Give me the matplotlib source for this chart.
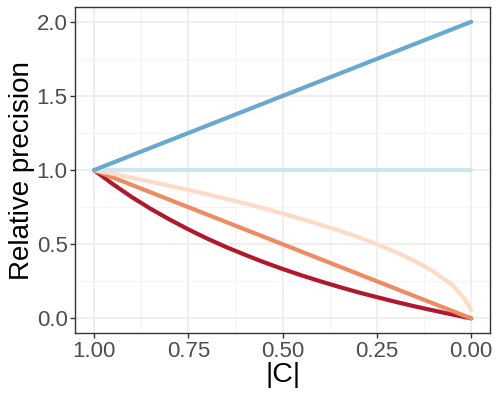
import numpy as np
import matplotlib
matplotlib.use("Agg")
import matplotlib.pyplot as plt

plt.rcParams["font.family"] = ["Liberation Sans", "DejaVu Sans"]

# |C| values (x axis runs from 1 down to 0)
c_abs = [1.0, 0.95, 0.9, 0.85, 0.8, 0.75, 0.7, 0.65, 0.6, 0.55, 0.5,
         0.45, 0.4, 0.35, 0.3, 0.25, 0.2, 0.15, 0.1, 0.05, 0.02, 0.01, 0.0]

blue_dark = [1.0, 1.05, 1.1, 1.15, 1.2, 1.25, 1.3, 1.35, 1.4, 1.45, 1.5,
             1.55, 1.6, 1.65, 1.7, 1.75, 1.8, 1.85, 1.9, 1.95, 1.98, 1.99, 2.0]
blue_light = [1.0] * 23
orange_light = [1.0, 0.975, 0.949, 0.922, 0.894, 0.866, 0.837, 0.806, 0.775, 0.742, 0.707,
                0.671, 0.632, 0.592, 0.548, 0.5, 0.447, 0.387, 0.316, 0.224, 0.141, 0.1, 0.055]
orange = [1.0, 0.95, 0.9, 0.85, 0.8, 0.75, 0.7, 0.65, 0.6, 0.55, 0.5,
          0.45, 0.4, 0.35, 0.3, 0.25, 0.2, 0.15, 0.1, 0.05, 0.02, 0.01, 0.0]
red = [1.0, 0.905, 0.818, 0.739, 0.667, 0.6, 0.538, 0.481, 0.429, 0.379, 0.333,
       0.29, 0.25, 0.212, 0.176, 0.143, 0.111, 0.081, 0.053, 0.026, 0.01, 0.005, 0.0]

x_ticks = [1.0, 0.75, 0.5, 0.25, 0.0]
x_labels = ["1.00", "0.75", "0.50", "0.25", "0.00"]
y_ticks = [0.0, 0.5, 1.0, 1.5, 2.0]
y_labels = ["0.0", "0.5", "1.0", "1.5", "2.0"]

fig = plt.figure(figsize=(4.98, 3.99), dpi=100)
ax = fig.add_axes([0.151, 0.165, 0.833, 0.8175])

lw = 3.0
ax.plot(c_abs, red, color="#b2182b", lw=lw, solid_capstyle="round", zorder=3)
ax.plot(c_abs, orange, color="#ef8a62", lw=lw, solid_capstyle="round", zorder=3)
ax.plot(c_abs, orange_light, color="#fddbc7", lw=lw, solid_capstyle="round", zorder=3)
ax.plot(c_abs, blue_light, color="#d1e5f0", lw=lw, solid_capstyle="round", zorder=3)
ax.plot(c_abs, blue_dark, color="#67a9cf", lw=lw, solid_capstyle="round", zorder=3)

ax.set_xlim(1.05, -0.05)
ax.set_ylim(-0.1, 2.1)

ax.set_xticks(x_ticks)
ax.set_xticklabels(x_labels)
ax.set_yticks(y_ticks)
ax.set_yticklabels(y_labels)
ax.set_xticks([0.875, 0.625, 0.375, 0.125], minor=True)
ax.set_yticks([0.25, 0.75, 1.25, 1.75], minor=True)

ax.grid(True, which="major", color="#ebebeb", lw=1.1, zorder=0)
ax.grid(True, which="minor", color="#f2f2f2", lw=0.6, zorder=0)
ax.set_axisbelow(True)

ax.tick_params(which="major", length=3.5, width=1.0, color="#333333",
               labelsize=16, labelcolor="#4d4d4d", pad=2)
ax.tick_params(which="minor", length=0)
for s in ax.spines.values():
    s.set_color("#333333")
    s.set_linewidth(1.0)

ax.set_xlabel("|C|", fontsize=20.5, labelpad=0)
ax.set_ylabel("Relative precision", fontsize=20, labelpad=1)

fig.savefig("out.png", dpi=100)
